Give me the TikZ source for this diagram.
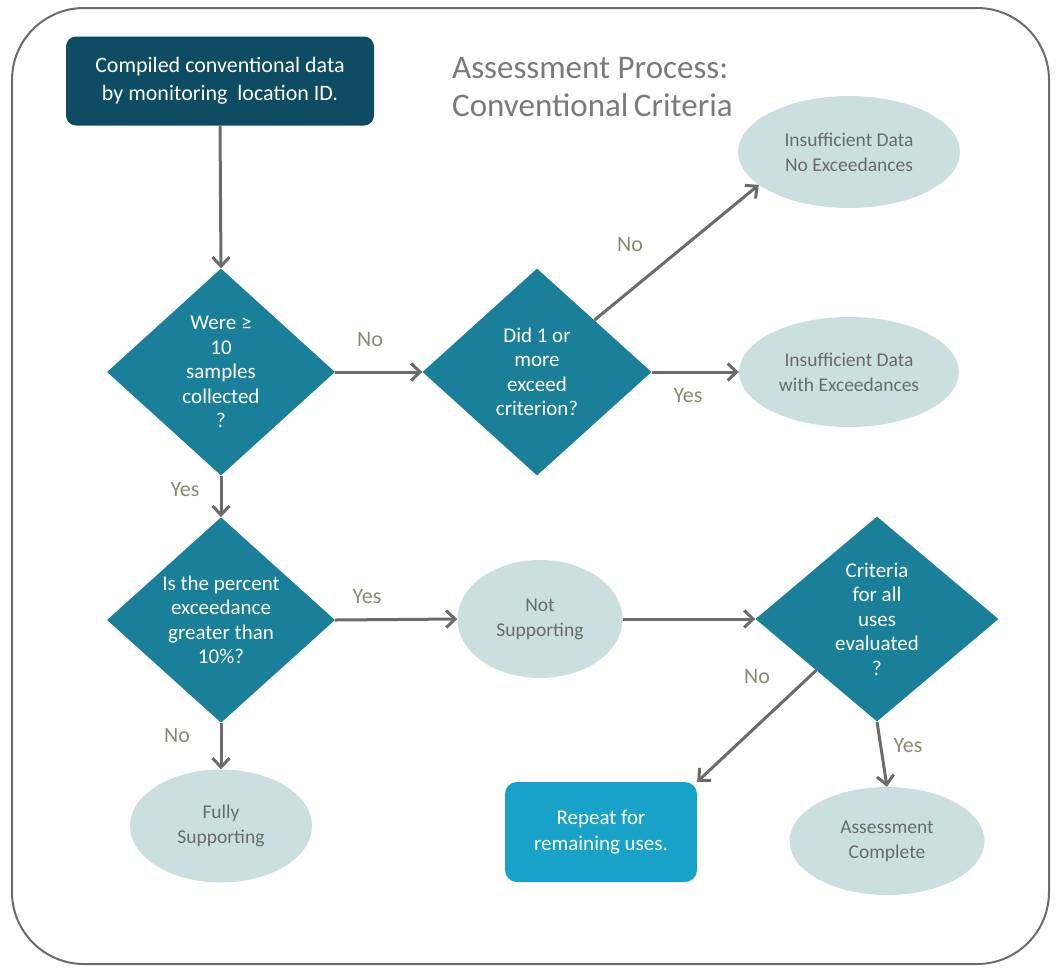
\documentclass[tikz,border=0pt]{standalone}
\usepackage{fontspec}
\setmainfont{Carlito}
\usetikzlibrary{shapes.geometric,arrows.meta}
\definecolor{darkteal}{HTML}{0E4C64}
\definecolor{teal}{HTML}{1A7F99}
\definecolor{cyanbox}{HTML}{18A2C8}
\definecolor{ellfill}{HTML}{CBDFE1}
\definecolor{elltext}{HTML}{6A6A6A}
\definecolor{labcol}{HTML}{8A8A72}
\definecolor{arrcol}{HTML}{6B6B6B}
\definecolor{titlecol}{HTML}{7A7A7A}
\begin{document}
\begin{tikzpicture}[x=1pt,y=-1pt,
  frame/.style={draw=arrcol, line width=2, rounded corners=72},
  topbox/.style={rectangle, rounded corners=10, fill=darkteal, text=white, align=center,
    minimum width=308, minimum height=89, inner sep=0, font=\fontsize{22}{28}\selectfont},
  repbox/.style={rectangle, rounded corners=12, fill=cyanbox, text=white, align=center,
    minimum width=192, minimum height=100, inner sep=0, font=\fontsize{21}{26}\selectfont},
  dec/.style={diamond, fill=teal, text=white, align=center, inner sep=0,
    font=\fontsize{21}{24.5}\selectfont},
  ell/.style={ellipse, fill=ellfill, text=elltext, align=center, inner sep=0,
    font=\fontsize{19.5}{25}\selectfont},
  titletext/.style={text=titlecol, align=left, inner sep=0, font=\fontsize{33}{38}\selectfont},
  lab/.style={text=labcol, inner sep=0, font=\fontsize{22}{24}\selectfont},
  arr/.style={draw=arrcol, line width=3, -{Straight Barb[length=9,width=17]}}
]
\useasboundingbox (0,0) rectangle (1057,970);
\draw[frame] (12,8) rectangle (1049,964);

\node[topbox] (start) at (220,81) {Compiled conventional data\\by monitoring\ \ location ID.};
\node[titletext, anchor=base west] (title) at (452,116) {Assessment Process:\\Conventional\,Criteria};

\node[dec, minimum width=228, minimum height=207] (d1) at (221,372) {Were ≥\\10\\samples\\collected\\?};
\node[dec, minimum width=229, minimum height=207] (d2) at (537,372) {Did 1 or\\more\\exceed\\criterion?};
\node[ell, minimum width=222, minimum height=112] (e1) at (849,152) {Insufficient Data\\No Exceedances};
\node[ell, minimum width=220, minimum height=110] (e2) at (849,372) {Insufficient Data\\with Exceedances};

\node[dec, minimum width=228, minimum height=205] (d3) at (221,620) {Is the percent\\exceedance\\greater than\\10\%?};
\node[ell, minimum width=165, minimum height=118] (e3) at (540,619) {Not\\Supporting};
\node[dec, minimum width=243, minimum height=205] (d4) at (877,619) {Criteria\\for all\\uses\\evaluated\\?};

\node[ell, minimum width=182, minimum height=113] (e4) at (221,826) {Fully\\Supporting};
\node[repbox] (rep) at (601,832) {Repeat for\\remaining uses.};
\node[ell, minimum width=195, minimum height=108] (e5) at (887,841) {Assessment\\Complete};

\draw[arr] (start.south) -- (d1.north);
\draw[arr] (d1.east) -- (d2.west);
\draw[arr] (d2.north east) -- (e1.200);
\draw[arr] (d2.east) -- (e2.west);
\draw[arr] (d1.south) -- (d3.north);
\draw[arr] (d3.east) -- (e3.west);
\draw[arr] (e3.east) -- (d4.west);
\draw[arr] (d4.south west) -- (rep.north east);
\draw[arr] (d4.south) -- (e5.north);
\draw[arr] (d3.south) -- (e4.north);

\node[lab] (l1) at (370,340) {No};
\node[lab] (l2) at (630,245) {No};
\node[lab] (l3) at (688,396) {Yes};
\node[lab] (l4) at (185,490) {Yes};
\node[lab] (l5) at (367,597) {Yes};
\node[lab] (l6) at (757,677) {No};
\node[lab] (l7) at (908,746) {Yes};
\node[lab] (l8) at (177,736) {No};
\end{tikzpicture}
\end{document}
